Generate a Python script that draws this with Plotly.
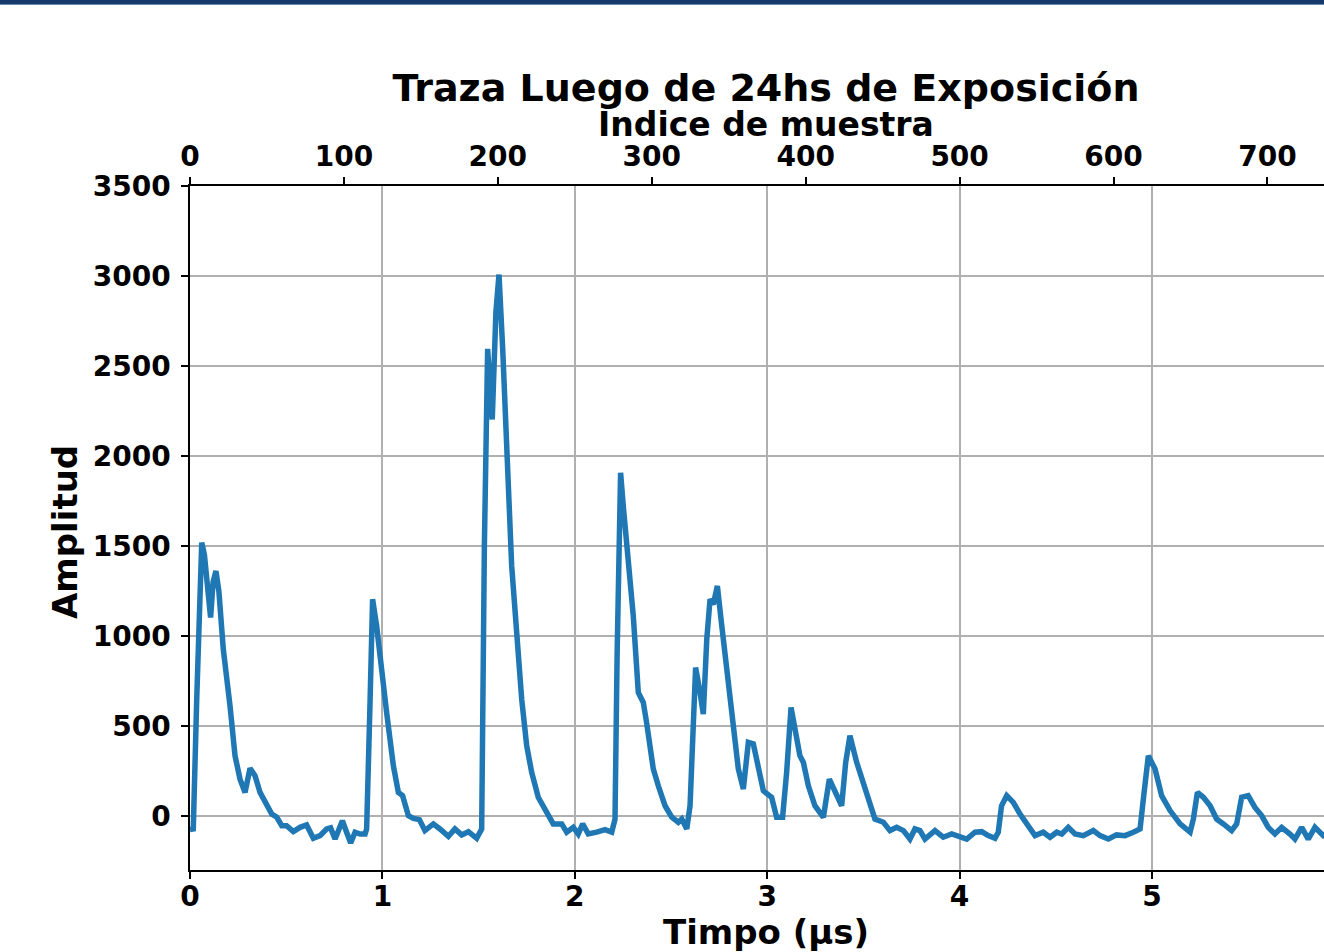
import plotly.graph_objects as go

# ---- data ----
time_us = [0.000, 0.017, 0.035, 0.050, 0.061, 0.075, 0.095, 0.107, 0.120, 0.135, 0.150, 0.173, 0.208, 0.234,
           0.260, 0.286, 0.312, 0.338, 0.364, 0.399, 0.425, 0.451, 0.477, 0.502, 0.537, 0.572, 0.606, 0.641,
           0.676, 0.710, 0.731, 0.754, 0.792, 0.814, 0.835, 0.858, 0.884, 0.910, 0.918, 0.935, 0.949, 0.970,
           0.996, 1.022, 1.057, 1.083, 1.105, 1.135, 1.161, 1.192, 1.221, 1.265, 1.299, 1.343, 1.377, 1.412,
           1.447, 1.490, 1.516, 1.530, 1.547, 1.560, 1.571, 1.590, 1.606, 1.625, 1.646, 1.655, 1.672, 1.698,
           1.724, 1.750, 1.776, 1.810, 1.845, 1.888, 1.932, 1.958, 1.992, 2.018, 2.041, 2.070, 2.114, 2.157,
           2.192, 2.209, 2.220, 2.238, 2.252, 2.278, 2.304, 2.330, 2.356, 2.373, 2.408, 2.434, 2.469, 2.504,
           2.538, 2.556, 2.582, 2.599, 2.628, 2.651, 2.668, 2.686, 2.703, 2.720, 2.741, 2.764, 2.798, 2.824,
           2.850, 2.876, 2.902, 2.928, 2.954, 2.980, 3.023, 3.049, 3.080, 3.101, 3.124, 3.144, 3.170, 3.188,
           3.214, 3.248, 3.292, 3.323, 3.352, 3.387, 3.408, 3.430, 3.465, 3.500, 3.534, 3.560, 3.604, 3.638,
           3.673, 3.708, 3.742, 3.768, 3.794, 3.820, 3.872, 3.915, 3.959, 4.002, 4.037, 4.080, 4.115, 4.149,
           4.184, 4.201, 4.218, 4.245, 4.279, 4.314, 4.349, 4.392, 4.435, 4.470, 4.505, 4.531, 4.565, 4.600,
           4.643, 4.695, 4.730, 4.773, 4.816, 4.860, 4.903, 4.938, 4.955, 4.981, 5.016, 5.050, 5.094, 5.146,
           5.198, 5.215, 5.236, 5.267, 5.302, 5.336, 5.371, 5.414, 5.440, 5.466, 5.500, 5.535, 5.570, 5.604,
           5.639, 5.674, 5.717, 5.743, 5.778, 5.812, 5.847, 5.890, 5.920]

amplitude = [-75, -72, 650, 1300, 1519, 1450, 1200, 1103, 1300, 1361, 1250, 927, 612, 335,
             205, 131, 265, 224, 131, 67, 11, -7, -54, -54, -87, -63, -50, -124,
             -109, -72, -66, -128, -26, -90, -150, -90, -100, -100, -72, 600, 1204, 1056,
             797, 575, 279, 131, 113, 2, -13, -20, -81, -44, -72, -113, -72, -105,
             -87, -124, -72, 1500, 2595, 2300, 2203, 2800, 3008, 2600, 2092, 1759, 1389, 1019,
             649, 390, 242, 104, 39, -44, -44, -90, -63, -100, -44, -100, -90, -76,
             -90, -17, 900, 1907, 1722, 1444, 1111, 686, 631, 520, 261, 168, 57, -7,
             -35, -17, -72, 57, 825, 686, 566, 982, 1204, 1176, 1278, 1056, 760, 520,
             261, 150, 409, 400, 279, 140, 104, -7, -7, 242, 603, 483, 335, 298,
             168, 57, -7, 205, 131, 57, 298, 446, 298, 187, 76, -17, -35, -81,
             -63, -81, -128, -72, -81, -128, -81, -118, -100, -118, -128, -90, -87, -109,
             -124, -90, 57, 113, 76, 11, -44, -109, -90, -118, -90, -100, -63, -100,
             -109, -81, -109, -128, -105, -109, -90, -72, 94, 335, 261, 113, 30, -44,
             -90, -17, 131, 104, 57, -17, -44, -81, -44, 104, 113, 48, 2, -63,
             -100, -63, -100, -128, -63, -128, -63, -109, -90]

SAMPLES_PER_US = 125
time_ticks = [0, 1, 2, 3, 4, 5]
sample_ticks = [0, 100, 200, 300, 400, 500, 600, 700]
amp_ticks = [0, 500, 1000, 1500, 2000, 2500, 3000, 3500]
X_MAX_US = 5.894
Y_RANGE = [-300, 3500]

TITLE = "Traza Luego de 24hs de Exposición"
X_TITLE = "Timpo (µs)"
X2_TITLE = "Indice de muestra"
Y_TITLE = "Amplitud"

sample_index = [t * SAMPLES_PER_US for t in time_us]

FONT = "DejaVu Sans"
bold = lambda s: dict(family=FONT, size=s, color="black", weight="bold")

W, H = 1324, 952
L, R, T, B = 190, 0, 186, 82
plot_w = W - L - R
plot_h = H - T - B
px_x = lambda x: (x - L) / plot_w          # page pixel -> paper x
px_y = lambda y: (H - B - y) / plot_h      # page pixel -> paper y

fig = go.Figure()
fig.add_trace(go.Scatter(x=time_us, y=amplitude, mode="lines",
                         line=dict(color="#1f77b4", width=5.5),
                         xaxis="x", yaxis="y", showlegend=False))
fig.add_trace(go.Scatter(x=sample_index, y=amplitude, mode="lines",
                         line=dict(color="rgba(0,0,0,0)", width=0),
                         xaxis="x2", yaxis="y", showlegend=False, hoverinfo="skip"))

axis_common = dict(showline=True, linecolor="black", linewidth=1.5,
                   ticks="outside", ticklen=7, tickwidth=1.5, tickcolor="black",
                   zeroline=False, tickfont=bold(28))

fig.update_layout(
    width=W, height=H,
    margin=dict(l=L, r=R, t=T, b=B),
    paper_bgcolor="white", plot_bgcolor="white",
    showlegend=False,
    title=dict(text=TITLE, font=bold(38),
               x=766 / W, xanchor="center", xref="container",
               y=1 - 88 / H, yanchor="middle", yref="container"),
    xaxis=dict(range=[0, X_MAX_US], tickvals=time_ticks,
               showgrid=True, gridcolor="#b0b0b0", gridwidth=1.5,
               ticklabelstandoff=-6, **axis_common),
    xaxis2=dict(range=[0, X_MAX_US * SAMPLES_PER_US], tickvals=sample_ticks,
                overlaying="x", side="top", anchor="y", showgrid=False,
                **axis_common),
    yaxis=dict(range=Y_RANGE, tickvals=amp_ticks,
               showgrid=True, gridcolor="#b0b0b0", gridwidth=1.5,
               ticklabelstandoff=5, **axis_common),
)

fig.add_annotation(text=X_TITLE, xref="paper", yref="paper", x=px_x(766), y=px_y(932),
                   xanchor="center", yanchor="middle", showarrow=False, font=bold(34))
fig.add_annotation(text=X2_TITLE, xref="paper", yref="paper", x=px_x(766), y=px_y(125),
                   xanchor="center", yanchor="middle", showarrow=False, font=bold(33))
fig.add_annotation(text=Y_TITLE, xref="paper", yref="paper", x=px_x(65), y=px_y(532),
                   xanchor="center", yanchor="middle", showarrow=False, font=bold(34),
                   textangle=-90)

# dark banner strip along the top edge of the page
fig.add_shape(type="rect", xref="paper", yref="paper",
              x0=px_x(0), x1=1.0, y0=px_y(4), y1=px_y(-2),
              fillcolor="#163a6e", line=dict(width=0), layer="above")
fig.add_shape(type="rect", xref="paper", yref="paper",
              x0=px_x(0), x1=1.0, y0=px_y(5), y1=px_y(4),
              fillcolor="#6a8ab3", line=dict(width=0), layer="above")

fig.write_html("out.html", config={"displayModeBar": False},
               post_script="document.body.style.margin='0';document.body.style.overflow='hidden';")
